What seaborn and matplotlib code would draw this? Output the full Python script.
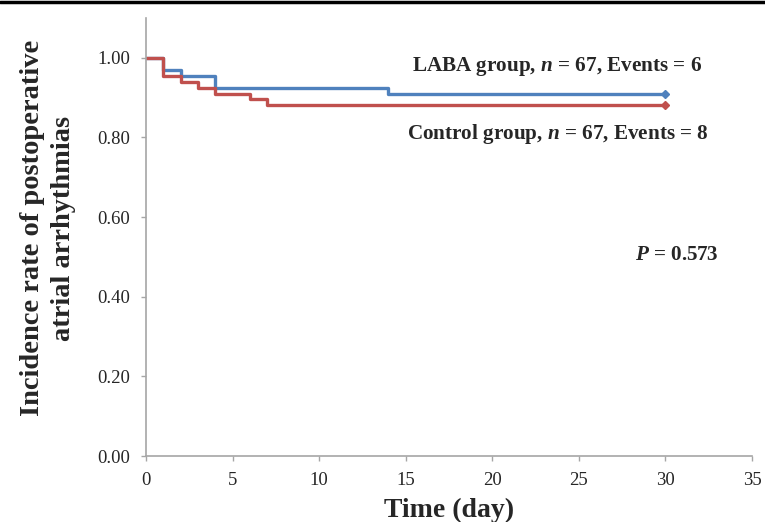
import matplotlib
matplotlib.use("Agg")
import matplotlib.pyplot as plt
import seaborn as sns
import pandas as pd

# step data (day, proportion free of arrhythmia)
laba_time = [0, 1, 2, 4, 14, 30]
laba_rate = [1.000, 0.970, 0.955, 0.925, 0.910, 0.910]
ctrl_time = [0, 1, 2, 3, 4, 6, 7, 30]
ctrl_rate = [1.000, 0.955, 0.940, 0.925, 0.910, 0.896, 0.881, 0.881]

x_ticks = [0, 5, 10, 15, 20, 25, 30, 35]
y_ticks = [0.0, 0.2, 0.4, 0.6, 0.8, 1.0]

labels = {
    'laba': (23.75, 0.978, r'LABA group, $\mathbfit{n}$ = 67, Events = 6'),
    'ctrl': (23.8, 0.808, r'Control group, $\mathbfit{n}$ = 67, Events = 8'),
    'p': (30.65, 0.505, r'$\mathbfit{P}$ = 0.573'),
}

BLUE = '#4F81BD'
RED = '#C0504D'
GREY = '#A6A6A6'

sns.set_style("white")
plt.rcParams['font.family'] = ['Liberation Serif', 'DejaVu Serif']
plt.rcParams['mathtext.fontset'] = 'custom'
plt.rcParams['mathtext.rm'] = 'Liberation Serif'
plt.rcParams['mathtext.it'] = 'Liberation Serif:italic'
plt.rcParams['mathtext.bf'] = 'Liberation Serif:bold'
plt.rcParams['mathtext.bfit'] = 'Liberation Serif:bold:italic'

df_laba = pd.DataFrame({'time': laba_time, 'rate': laba_rate})
df_ctrl = pd.DataFrame({'time': ctrl_time, 'rate': ctrl_rate})

fig = plt.figure(figsize=(7.65, 5.22), dpi=100)
ax = fig.add_axes([0.1908, 0.1264, 0.983 - 0.1908, 0.9655 - 0.1264])

sns.lineplot(data=df_laba, x='time', y='rate', ax=ax, color=BLUE, lw=2.4,
             drawstyle='steps-post', estimator=None, sort=False)
sns.lineplot(data=df_ctrl, x='time', y='rate', ax=ax, color=RED, lw=2.4,
             drawstyle='steps-post', estimator=None, sort=False)

# end markers
ax.plot(laba_time[-1], laba_rate[-1], marker='D', ms=4, color=BLUE)
ax.plot(ctrl_time[-1], ctrl_rate[-1], marker='D', ms=4, color=RED)

ax.set_xlim(0, 35)
ax.set_ylim(0, 1.1)
ax.set_xticks(x_ticks)
ax.set_yticks(y_ticks)
ax.set_yticklabels([f'{v:.2f}' for v in y_ticks])

for side in ['top', 'right']:
    ax.spines[side].set_visible(False)
for side in ['left', 'bottom']:
    ax.spines[side].set_color(GREY)
    ax.spines[side].set_linewidth(1.2)
ax.tick_params(axis='both', direction='out', length=3.5, width=1.0, color=GREY,
               labelsize=13.5, pad=8, left=True, bottom=True)

ax.set_xlabel('Time (day)', fontsize=20, fontweight='bold')
ax.xaxis.set_label_coords(0.5, -0.096)
ax.set_ylabel('Incidence rate of postoperative\natrial arrhythmias',
              fontsize=20.5, fontweight='bold', linespacing=1.35)
ax.yaxis.set_label_coords(-0.115, 0.52)

for key, (tx, ty, txt) in labels.items():
    ax.text(tx, ty, txt, ha='center', va='center', fontsize=15.2, fontweight='bold')

# thin black rule across the top of the image
fig.add_artist(plt.Line2D([0, 1], [0.9968, 0.9968], color='black', lw=2.5,
                          transform=fig.transFigure))

fig.savefig('out.png', dpi=100)
